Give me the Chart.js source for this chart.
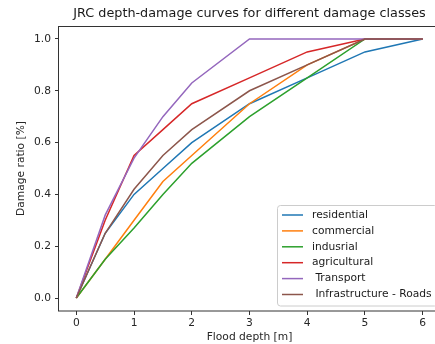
<!DOCTYPE html>
<html>
<head>
<meta charset="utf-8">
<script src="https://cdn.jsdelivr.net/npm/chart.js@4/dist/chart.umd.min.js"></script>
<style>
html,body{margin:0;padding:0;background:#fff;overflow:hidden;width:435px;height:344px;}
canvas{display:block;}
</style>
</head>
<body>
<canvas id="c" width="440" height="344"></canvas>
<script>
const depths = [0, 0.5, 1, 1.5, 2, 3, 4, 5, 6];
const residential = [0, 0.25, 0.4, 0.5, 0.6, 0.75, 0.85, 0.95, 1.0];
const commercial = [0, 0.15, 0.3, 0.45, 0.55, 0.75, 0.9, 1.0, 1.0];
const industrial = [0, 0.15, 0.27, 0.4, 0.52, 0.7, 0.85, 1.0, 1.0];
const agricultural = [0, 0.3, 0.55, 0.65, 0.75, 0.85, 0.95, 1.0, 1.0];
const transport = [0, 0.32, 0.54, 0.7, 0.83, 1.0, 1.0, 1.0, 1.0];
const roads = [0, 0.25, 0.42, 0.55, 0.65, 0.8, 0.9, 1.0, 1.0];
const seriesLabels = ['residential', 'commercial', 'indusrial', 'agricultural', ' Transport', ' Infrastructure - Roads'];
const seriesValues = [residential, commercial, industrial, agricultural, transport, roads];
const seriesColors = ['#1f77b4', '#ff7f0e', '#2ca02c', '#d62728', '#9467bd', '#8c564b'];
const xTicks = [0, 1, 2, 3, 4, 5, 6];
const yTicks = [0, 0.2, 0.4, 0.6, 0.8, 1.0];
const titleText = 'JRC depth-damage curves for different damage classes';
const xTitle = 'Flood depth [m]';
const yTitle = 'Damage ratio [%]';

const FONT = '"DejaVu Sans", sans-serif';
const FS = 10.7;
const n = seriesValues.length;
const datasets = seriesValues.map((vals, i) => ({
  label: seriesLabels[i],
  data: depths.map((d, j) => ({x: d, y: vals[j]})),
  borderColor: seriesColors[i],
  backgroundColor: seriesColors[i],
  borderWidth: 1.5,
  pointRadius: 0,
  tension: 0,
  fill: false,
  order: n - i
}));

const frameAndText = {
  id: 'frameAndText',
  afterDatasetsDraw(chart) {
    const {ctx, chartArea: a} = chart;
    ctx.save();
    // spines
    ctx.strokeStyle = '#333';
    ctx.lineWidth = 1;
    ctx.strokeRect(Math.round(a.left) - 0.5, Math.round(a.top) + 0.5, Math.round(a.right - a.left), Math.round(a.bottom - a.top) - 0.5);
    // title
    ctx.fillStyle = '#1a1a1a';
    ctx.font = '12.8px ' + FONT;
    ctx.textAlign = 'center';
    ctx.textBaseline = 'middle';
    ctx.fillText(titleText, (a.left + a.right) / 2, 14);
    // legend
    const lx = 277.5, ly = 205.5, lw = 160, lh = 100.5, r = 3;
    ctx.beginPath();
    ctx.moveTo(lx + r, ly);
    ctx.lineTo(lx + lw - r, ly);
    ctx.arcTo(lx + lw, ly, lx + lw, ly + r, r);
    ctx.lineTo(lx + lw, ly + lh - r);
    ctx.arcTo(lx + lw, ly + lh, lx + lw - r, ly + lh, r);
    ctx.lineTo(lx + r, ly + lh);
    ctx.arcTo(lx, ly + lh, lx, ly + lh - r, r);
    ctx.lineTo(lx, ly + r);
    ctx.arcTo(lx, ly, lx + r, ly, r);
    ctx.closePath();
    ctx.fillStyle = 'rgba(255,255,255,0.8)';
    ctx.fill();
    ctx.strokeStyle = '#cccccc';
    ctx.lineWidth = 1;
    ctx.stroke();
    ctx.font = FS + 'px ' + FONT;
    ctx.textAlign = 'left';
    ctx.textBaseline = 'middle';
    chart.data.datasets.forEach((ds, i) => {
      const y = 215 + i * 15.9;
      ctx.strokeStyle = ds.borderColor;
      ctx.lineWidth = 1.5;
      ctx.beginPath();
      ctx.moveTo(282, y);
      ctx.lineTo(303, y);
      ctx.stroke();
      ctx.fillStyle = '#1a1a1a';
      ctx.fillText(ds.label, 312, y);
    });
    ctx.restore();
  }
};

new Chart(document.getElementById('c'), {
  type: 'line',
  data: {datasets},
  options: {
    responsive: false,
    devicePixelRatio: 1,
    animation: false,
    layout: {padding: {top: 26, left: 0, right: 0, bottom: 0}},
    plugins: {legend: {display: false}, title: {display: false}, tooltip: {enabled: false}},
    scales: {
      x: {
        type: 'linear',
        min: -0.3,
        max: 6.3,
        afterBuildTicks(s) { s.ticks = xTicks.map(v => ({value: v})); },
        afterFit(s) { s.height = 33; },
        border: {display: false},
        grid: {display: true, drawOnChartArea: false, drawTicks: true, tickLength: 4, color: '#333', lineWidth: 1},
        ticks: {padding: 2, color: '#262626', font: {family: FONT, size: FS}, maxRotation: 0,
                callback: v => String(v)},
        title: {display: true, text: xTitle, color: '#262626', font: {family: FONT, size: FS}, padding: {top: 0, bottom: 0.5}}
      },
      y: {
        type: 'linear',
        min: -0.05,
        max: 1.05,
        afterBuildTicks(s) { s.ticks = yTicks.map(v => ({value: v})); },
        afterFit(s) { s.width = 59; },
        border: {display: false},
        grid: {display: true, drawOnChartArea: false, drawTicks: true, tickLength: 4, color: '#333', lineWidth: 1},
        ticks: {padding: 4, color: '#262626', font: {family: FONT, size: FS},
                callback: v => Number(v).toFixed(1)},
        title: {display: true, text: yTitle, color: '#262626', font: {family: FONT, size: FS}, padding: {top: 15, bottom: 0}}
      }
    }
  },
  plugins: [frameAndText]
});
</script>
</body>
</html>
